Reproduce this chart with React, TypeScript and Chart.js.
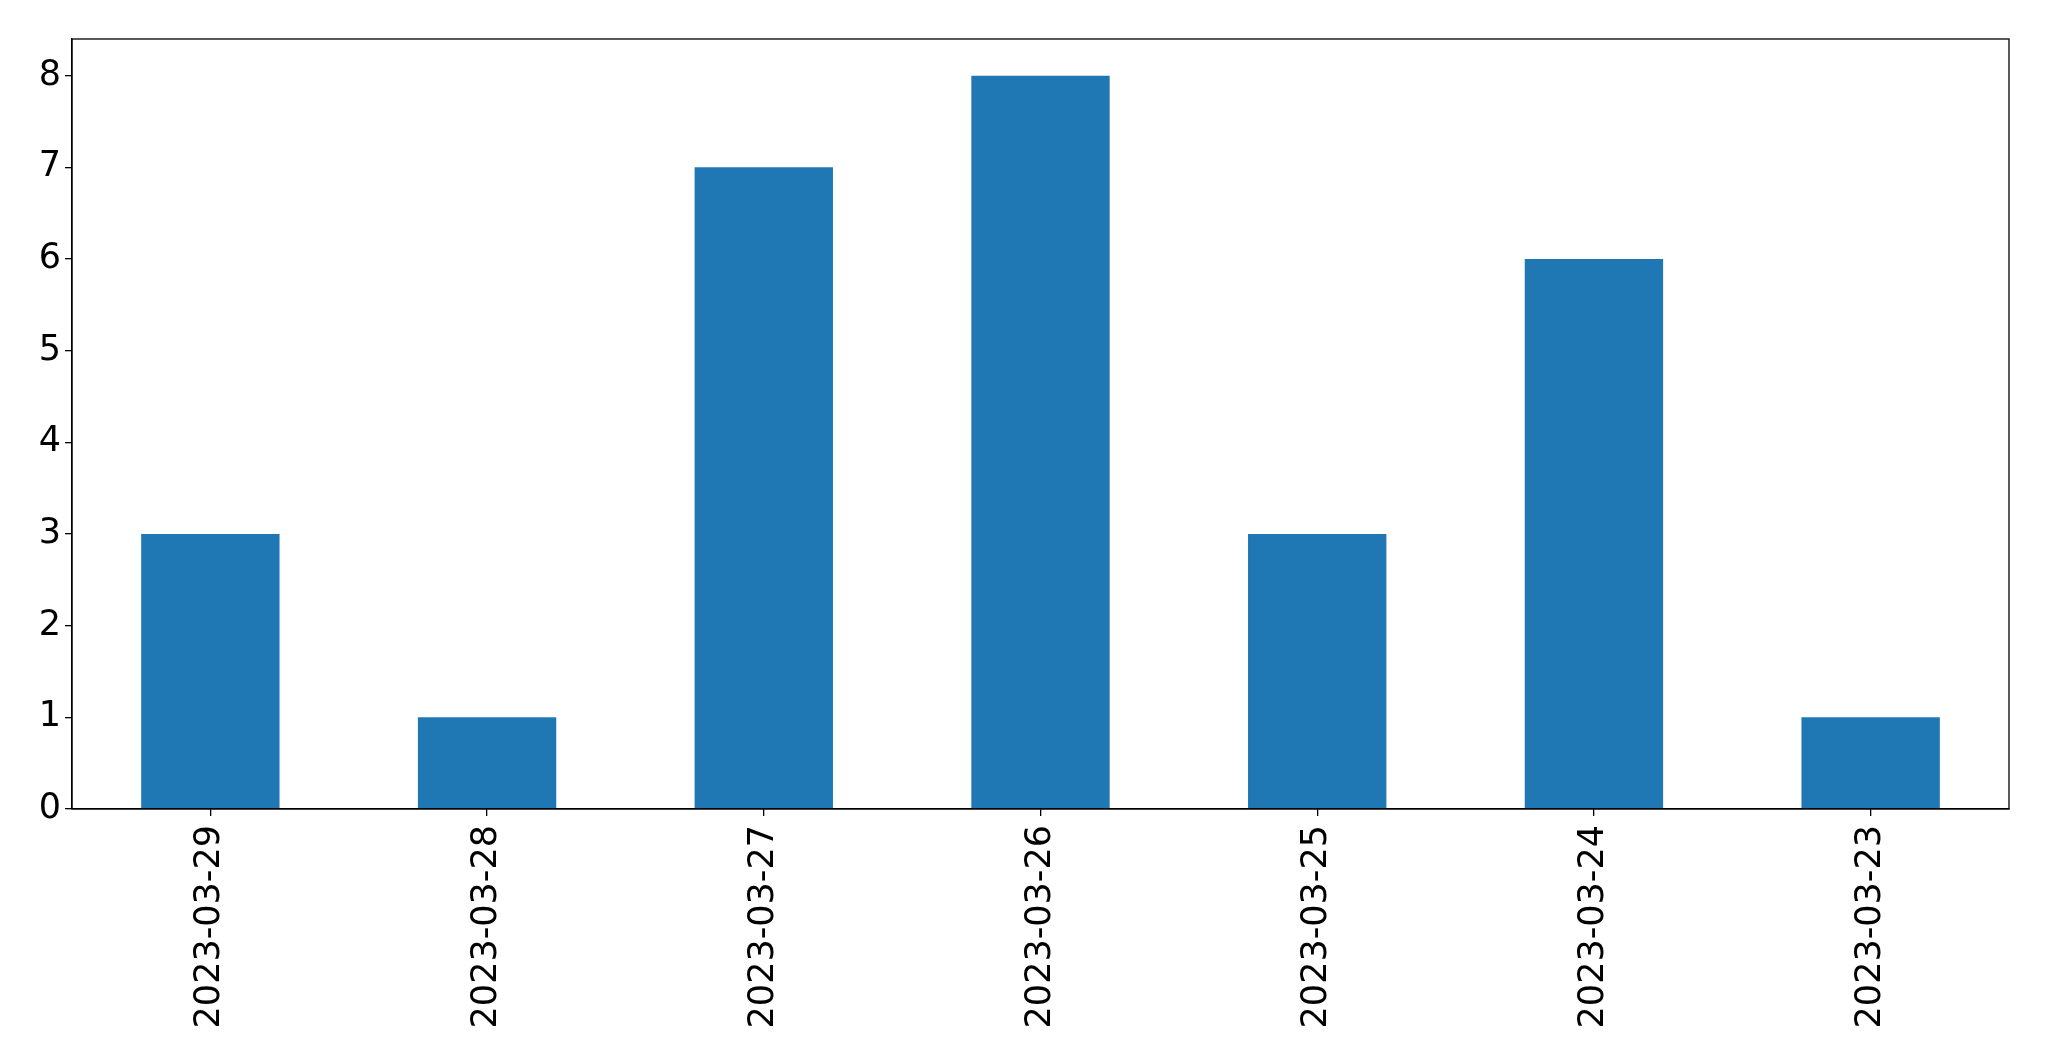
import React, { useEffect, useRef } from "react";
import { Chart, registerables } from "chart.js";

Chart.register(...registerables);

const categories = [
  "2023-03-29",
  "2023-03-28",
  "2023-03-27",
  "2023-03-26",
  "2023-03-25",
  "2023-03-24",
  "2023-03-23",
];
const counts = [3, 1, 7, 8, 3, 6, 1];
const yTicks = [0, 1, 2, 3, 4, 5, 6, 7, 8];

const W = 2049;
const H = 1061;
const LEFT = 72;
const TOP = 39;
const RIGHT = 2009;
const BOTTOM = 809;

const framePlugin = {
  id: "frame",
  afterDatasetsDraw(chart: any) {
    const { ctx, chartArea } = chart;
    ctx.save();
    ctx.strokeStyle = "#000";
    ctx.lineWidth = 1.3;
    ctx.strokeRect(chartArea.left, chartArea.top, chartArea.right - chartArea.left, chartArea.bottom - chartArea.top);
    ctx.restore();
  },
};

export default function App() {
  const ref = useRef<HTMLCanvasElement>(null);
  useEffect(() => {
    if (!ref.current) return;
    const font = { family: "DejaVu Sans", size: 35 };
    const chart = new Chart(ref.current, {
      type: "bar",
      data: {
        labels: categories,
        datasets: [
          {
            data: counts,
            backgroundColor: "#1f77b4",
            borderWidth: 0,
            categoryPercentage: 1,
            barPercentage: 0.5,
          },
        ],
      },
      options: {
        animation: false,
        responsive: false,
        maintainAspectRatio: false,
        layout: { padding: { top: TOP, right: W - RIGHT, left: 0, bottom: 0 } },
        plugins: { legend: { display: false }, tooltip: { enabled: false } },
        scales: {
          x: {
            offset: true,
            grid: { offset: false, drawOnChartArea: false, drawTicks: true, tickLength: 7, color: "#000", lineWidth: 1.3 },
            border: { display: true, color: "#000", width: 1.3 },
            ticks: { color: "#000", font, maxRotation: 90, minRotation: 90, padding: 9, autoSkip: false },
            afterFit: (s: any) => {
              s.height = H - BOTTOM;
            },
          },
          y: {
            min: 0,
            max: 8.4,
            afterBuildTicks: (s: any) => {
              s.ticks = yTicks.map((v) => ({ value: v }));
            },
            grid: { drawOnChartArea: false, drawTicks: true, tickLength: 7, color: "#000", lineWidth: 1.3 },
            border: { display: true, color: "#000", width: 1.3 },
            ticks: { color: "#000", font, padding: 4 },
            afterFit: (s: any) => {
              s.width = LEFT;
            },
          },
        },
      },
      plugins: [framePlugin],
    });
    return () => chart.destroy();
  }, []);
  return (
    <div style={{ position: "fixed", left: 0, top: 0, width: W, height: H, background: "#fff" }}>
      <canvas ref={ref} width={W} height={H} style={{ width: W, height: H, display: "block" }} />
    </div>
  );
}
